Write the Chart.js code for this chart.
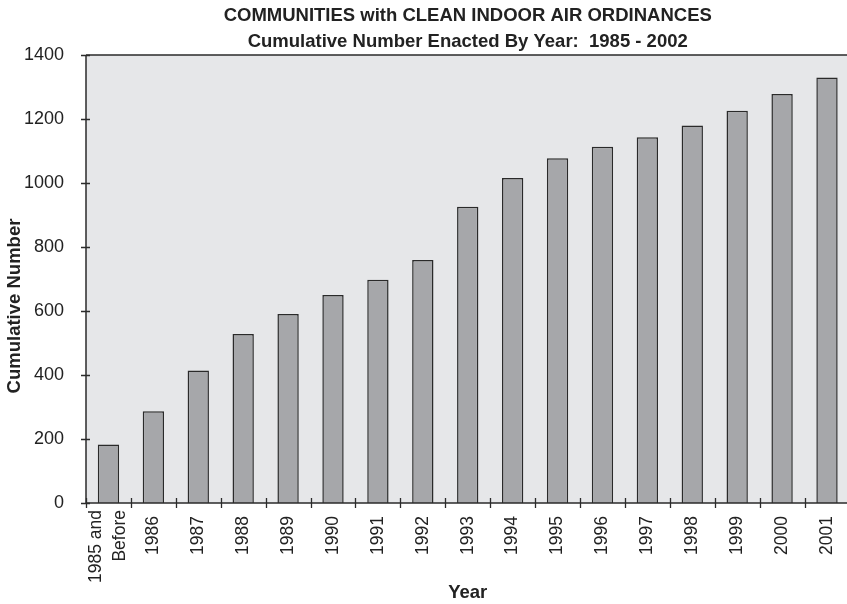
<!DOCTYPE html>
<html>
<head>
<meta charset="utf-8">
<script src="https://cdn.jsdelivr.net/npm/chart.js@4/dist/chart.umd.min.js"></script>
<style>
  html, body { margin: 0; padding: 0; background: #ffffff; overflow: hidden; }
  #wrap { position: relative; width: 853px; height: 604px; }
</style>
</head>
<body>
<div id="wrap"><canvas id="c" width="853" height="604"></canvas></div>
<script>
// Year categories (first bucket groups everything up to 1985)
const categories = [["1985 and", "Before"], "1986", "1987", "1988", "1989", "1990", "1991",
  "1992", "1993", "1994", "1995", "1996", "1997", "1998", "1999", "2000", "2001"];
// Cumulative number of ordinances enacted
const cumulativeCounts = [183, 287, 414, 528, 591, 650, 698, 759, 926, 1016, 1077, 1113,
  1143, 1180, 1226, 1278, 1330];
const yTicks = [0, 200, 400, 600, 800, 1000, 1200, 1400];
const titleLines = ["COMMUNITIES with CLEAN INDOOR AIR ORDINANCES",
  "Cumulative Number Enacted By Year:  1985 - 2002"];
const yAxisTitle = "Cumulative Number";

const FONT = "'Liberation Sans', Arial, Helvetica, sans-serif";
const INK = "#222222";
const X_TICK_SIZE = 17.5;
const X_TICK_PAD = 5;

// Plot background, frame, crossing tick marks, headings and the two-line first category
const framePlugin = {
  id: 'frame',
  beforeDraw(chart) {
    const { ctx, chartArea: a } = chart;
    ctx.save();
    ctx.fillStyle = '#e6e7e9';
    ctx.fillRect(a.left, a.top, a.right - a.left, a.bottom - a.top);
    ctx.restore();
  },
  afterDatasetsDraw(chart) {
    const { ctx, chartArea: a, scales } = chart;
    ctx.save();
    ctx.strokeStyle = '#2b2b2b';
    ctx.lineWidth = 1.5;
    ctx.beginPath();
    ctx.moveTo(a.left, a.top); ctx.lineTo(a.right, a.top);
    ctx.moveTo(a.left, a.top); ctx.lineTo(a.left, a.bottom);
    ctx.moveTo(a.left, a.bottom); ctx.lineTo(a.right, a.bottom);
    ctx.stroke();

    ctx.lineWidth = 1.3;
    ctx.beginPath();
    yTicks.forEach(v => {
      const y = Math.round(scales.y.getPixelForValue(v)) + 0.5;
      ctx.moveTo(a.left - 5, y); ctx.lineTo(a.left + 4, y);
    });
    const n = categories.length;
    const half = (scales.x.getPixelForValue(1) - scales.x.getPixelForValue(0)) / 2;
    for (let i = 0; i <= n; i++) {
      const x = Math.round(scales.x.getPixelForValue(i) - half) + 0.5;
      ctx.moveTo(x, a.bottom - 5); ctx.lineTo(x, a.bottom + 5);
    }
    ctx.stroke();

    ctx.fillStyle = INK;

    // two-line label of the first category, lines side by side around its centre
    const first = categories[0];
    const px = scales.x.getPixelForValue(0);
    const lh = 24;
    ctx.font = X_TICK_SIZE + "px " + FONT;
    ctx.textAlign = 'right';
    ctx.textBaseline = 'middle';
    first.forEach((line, k) => {
      ctx.save();
      ctx.translate(px + (k - (first.length - 1) / 2) * lh, a.bottom + X_TICK_PAD + 2);
      ctx.rotate(-Math.PI / 2);
      ctx.fillText(line, 0, 0);
      ctx.restore();
    });

    // vertical axis title
    ctx.save();
    ctx.font = "bold 18.5px " + FONT;
    ctx.textAlign = 'center';
    ctx.textBaseline = 'middle';
    ctx.translate(15, 306);
    ctx.rotate(-Math.PI / 2);
    ctx.fillText(yAxisTitle, 0, 0);
    ctx.restore();

    // heading
    const cx = (a.left + a.right) / 2;
    ctx.textAlign = 'center';
    ctx.textBaseline = 'alphabetic';
    ctx.font = "bold 18.5px " + FONT;
    ctx.fillText(titleLines[0], cx, 21);
    ctx.fillText(titleLines[1], cx, 46.5);
    ctx.restore();
  }
};

new Chart(document.getElementById('c'), {
  type: 'bar',
  data: {
    labels: categories,
    datasets: [{
      data: cumulativeCounts,
      backgroundColor: '#a6a7aa',
      borderColor: '#2a2a2a',
      borderWidth: 1.5,
      barPercentage: 0.475,
      categoryPercentage: 1.0
    }]
  },
  options: {
    responsive: false,
    animation: false,
    events: [],
    layout: { padding: { top: 55, left: 0, right: 0, bottom: 0 } },
    plugins: { legend: { display: false }, tooltip: { enabled: false }, title: { display: false } },
    scales: {
      x: {
        offset: true,
        grid: { display: false },
        border: { display: false },
        ticks: {
          autoSkip: false,
          maxRotation: 90,
          minRotation: 90,
          padding: X_TICK_PAD,
          color: INK,
          font: { family: FONT, size: X_TICK_SIZE },
          callback(value, index) {
            const lbl = categories[index];
            return Array.isArray(lbl) ? '' : lbl;
          }
        },
        title: {
          display: true,
          text: 'Year',
          color: INK,
          padding: { top: 0, bottom: 0 },
          font: { family: FONT, size: 18.5, weight: 'bold' }
        },
        afterFit(scale) { scale.height = 101; }
      },
      y: {
        min: 0,
        max: 1400,
        afterBuildTicks(scale) { scale.ticks = yTicks.map(v => ({ value: v })); },
        grid: { display: false },
        border: { display: false },
        ticks: {
          padding: 14,
          color: INK,
          font: { family: FONT, size: 18 },
          callback(value) { return String(value); }
        },
        title: { display: false },
        afterFit(scale) { scale.width = 86; }
      }
    }
  },
  plugins: [framePlugin]
});
</script>
</body>
</html>
